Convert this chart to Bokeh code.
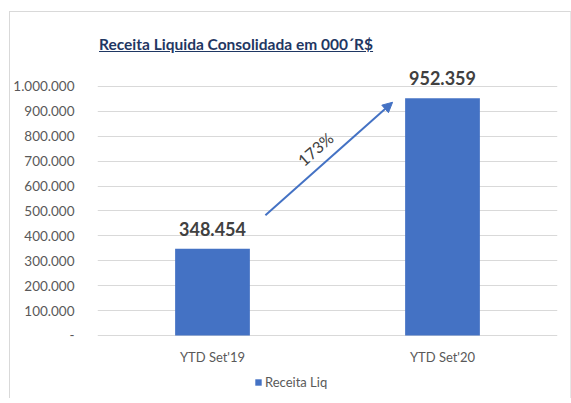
from bokeh.plotting import figure
from bokeh.models import (ColumnDataSource, FixedTicker, Range1d, Arrow, NormalHead,
                          Legend, LegendItem, Div, Spacer)
from bokeh.layouts import column, row
from bokeh.core.properties import value
from bokeh.embed import file_html
from bokeh.resources import INLINE

# ---- data ----
categories = ["YTD Set'19", "YTD Set'20"]
receita = [348454, 952359]
growth_label = "173%"
y_ticks = [0, 100000, 200000, 300000, 400000, 500000, 600000, 700000, 800000, 900000, 1000000]
title_text = "Receita Liquida Consolidada em 000´R$"
series_name = "Receita Liq"

BLUE = "#4472C4"
GRAY = "#595959"
DARK = "#404040"
FONT = "Lato"

xpos = [i + 0.5 for i in range(len(categories))]
labels = [f"{v:,}".replace(",", ".") for v in receita]
src = ColumnDataSource(dict(x=xpos, top=receita, lab=labels))

p = figure(output_backend="svg", toolbar_location=None,
           frame_width=460, frame_height=337,
           x_range=Range1d(0, len(categories)), y_range=Range1d(-253000, 1100000),
           min_border_left=85, min_border_right=13, min_border_top=3, min_border_bottom=0,
           margin=0)
p.outline_line_color = None
p.background_fill_color = "white"
p.border_fill_color = "white"

bars = p.vbar(x="x", top="top", width=0.325, source=src, fill_color=BLUE, line_color=None)

p.text(x="x", y="top", text="lab", source=src, text_align="center",
       text_baseline="alphabetic", y_offset=-20,
       text_font=value(FONT), text_font_style="bold", text_font_size="18px",
       text_color=DARK)

# growth arrow (from first bar label region toward second bar)
x0 = xpos[0] + 0.23
x1 = xpos[1] - 0.217
y0 = receita[0] + 134000
y1 = receita[1] - 16000
p.add_layout(Arrow(end=NormalHead(size=10, fill_color=BLUE, line_color=BLUE),
                   x_start=x0, y_start=y0, x_end=x1, y_end=y1,
                   line_color=BLUE, line_width=2))
p.text(x=[(x0 + x1) / 2 - 0.06], y=[(y0 + y1) / 2 + 40000], text=[growth_label],
       angle=41.5, angle_units="deg", text_align="center", text_baseline="middle",
       text_font=value(FONT), text_font_size="16px", text_color=DARK)

# axes
p.yaxis.ticker = FixedTicker(ticks=y_ticks)
p.yaxis.major_label_overrides = {t: ("-" if t == 0 else f"{t:,}".replace(",", ".")) for t in y_ticks}
p.yaxis.axis_line_color = None
p.yaxis.major_tick_line_color = None
p.yaxis.minor_tick_line_color = None
p.yaxis.major_label_text_color = GRAY
p.yaxis.major_label_text_font = FONT
p.yaxis.major_label_text_font_size = "13.5px"
p.yaxis.major_label_standoff = 17

p.xaxis.fixed_location = 0
p.xaxis.ticker = FixedTicker(ticks=xpos)
p.xaxis.major_label_overrides = {x: c for x, c in zip(xpos, categories)}
p.xaxis.axis_line_color = None
p.xaxis.major_tick_line_color = None
p.xaxis.minor_tick_line_color = None
p.xaxis.major_tick_out = 0
p.xaxis.major_tick_in = 0
p.xaxis.minor_tick_out = 0
p.xaxis.major_label_text_color = GRAY
p.xaxis.major_label_text_font = FONT
p.xaxis.major_label_text_font_size = "13px"
p.xaxis.major_label_standoff = 14

p.xgrid.grid_line_color = None
p.ygrid.grid_line_color = "#d9d9d9"
p.ygrid.ticker = FixedTicker(ticks=y_ticks)

legend = Legend(items=[LegendItem(label=series_name, renderers=[bars])],
                orientation="horizontal", location=(157, 8),
                label_text_font=FONT, label_text_font_size="13px", label_text_color=GRAY,
                glyph_width=8, glyph_height=8, padding=0, margin=0, spacing=4,
                label_standoff=3, border_line_color=None, background_fill_alpha=0)
p.add_layout(legend, "center")

title = Div(text=f'<div style="font-family:{FONT};font-weight:bold;font-size:15.5px;'
                 f'color:#1f3763;white-space:nowrap;line-height:20px;'
                 f'padding-top:22px;padding-left:89px;">'
                 f'<u>{title_text}</u></div>',
            width=558, height=46, margin=0)

inner = column(title, p, spacing=0, margin=0,
               styles={"border-left": "1px solid #d9d9d9", "border-top": "1px solid #d9d9d9",
                       "border-right": "1px solid #e6e6e6", "background": "white"})
layout = column(Spacer(height=11, margin=0),
                row(Spacer(width=9, margin=0), inner, margin=0, spacing=0),
                margin=0, spacing=0)

open("out.html", "w").write(file_html(layout, INLINE))
